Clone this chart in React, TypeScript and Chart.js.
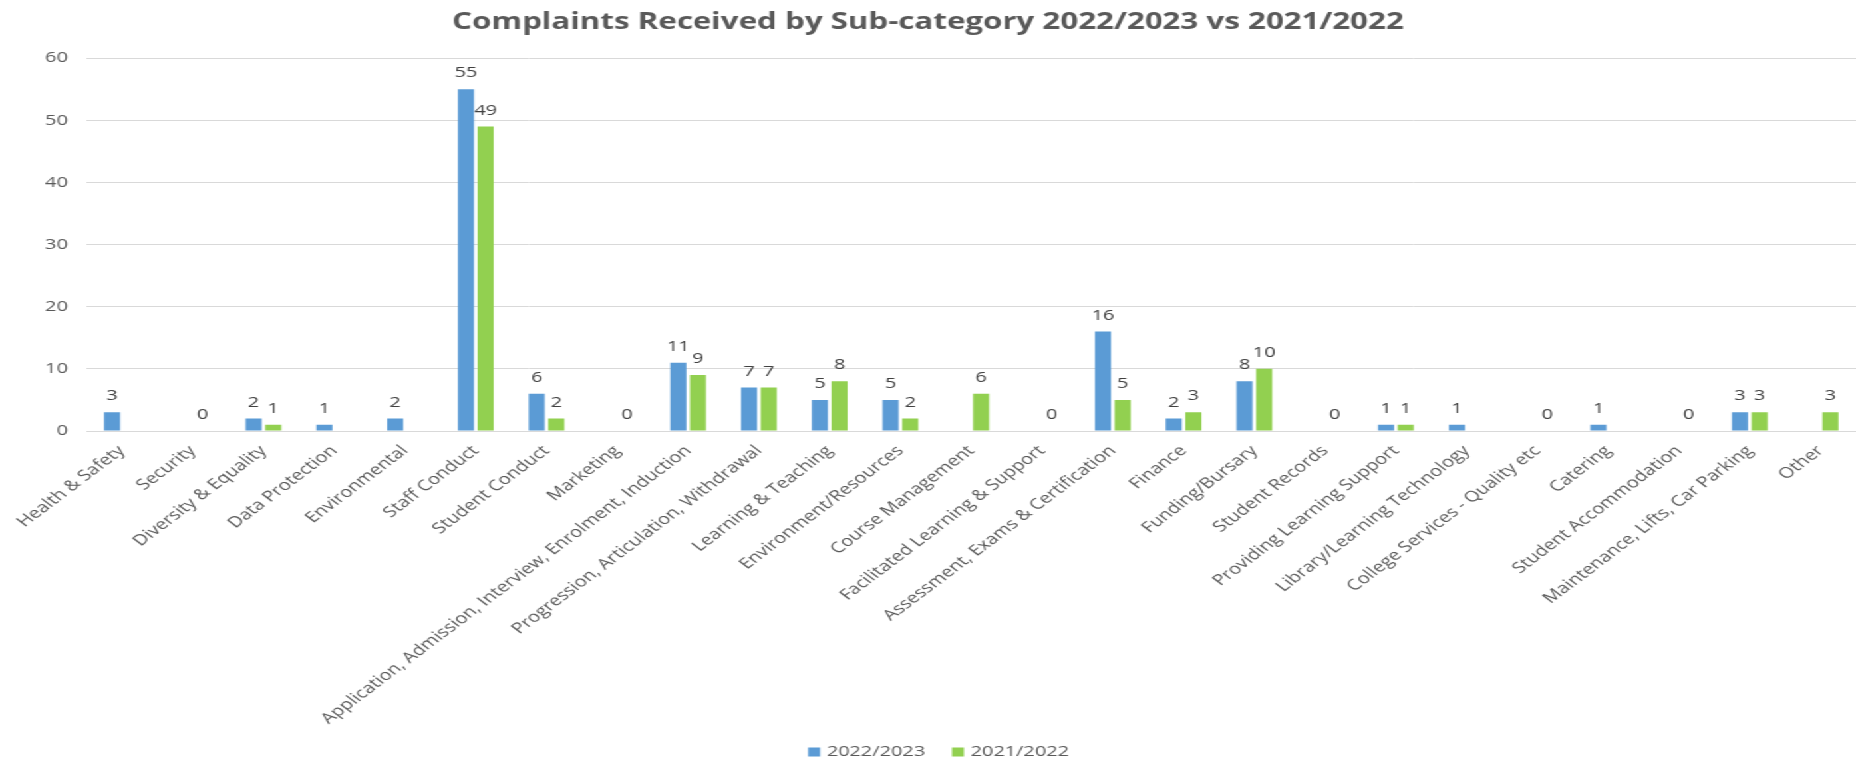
import React, { useEffect, useRef } from 'react';
import { Chart, registerables } from 'chart.js';

Chart.register(...registerables);

const TITLE = 'Complaints Received by Sub-category 2022/2023 vs 2021/2022';

const categories = [
  'Health & Safety',
  'Security',
  'Diversity & Equality',
  'Data Protection',
  'Environmental',
  'Staff Conduct',
  'Student Conduct',
  'Marketing',
  'Application, Admission, Interview, Enrolment, Induction',
  'Progression, Articulation, Withdrawal',
  'Learning & Teaching',
  'Environment/Resources',
  'Course Management',
  'Facilitated Learning & Support',
  'Assessment, Exams & Certification',
  'Finance',
  'Funding/Bursary',
  'Student Records',
  'Providing Learning Support',
  'Library/Learning Technology',
  'College Services - Quality etc',
  'Catering',
  'Student Accommodation',
  'Maintenance, Lifts, Car Parking',
  'Other',
];

const seriesLabels = ['2022/2023', '2021/2022'];

const values2022_23 = [3, null, 2, 1, 2, 55, 6, null, 11, 7, 5, 5, null, null, 16, 2, 8, null, 1, 1, null, 1, null, 3, null];
const values2021_22 = [null, 0, 1, null, null, 49, 2, 0, 9, 7, 8, 2, 6, 0, 5, 3, 10, 0, 1, null, 0, null, 0, 3, 3];

const yTicks = { min: 0, max: 60, step: 10 };

const BLUE = '#5B9BD5';
const GREEN = '#92D050';
const TEXT = '#595959';
const LABEL = '#404040';
const GRID = '#d9d9d9';
const FONT = 'Open Sans';

const LW = 1395; // logical width, stretched horizontally to 1856
const H = 761;
const STRETCH = 1856 / LW;

const dataLabelPlugin = {
  id: 'dataLabels',
  afterDatasetsDraw(chart: any) {
    const ctx = chart.ctx;
    ctx.save();
    ctx.font = `15px "${FONT}"`;
    ctx.fillStyle = LABEL;
    ctx.textAlign = 'center';
    ctx.textBaseline = 'alphabetic';
    chart.data.datasets.forEach((ds: any, i: number) => {
      const meta = chart.getDatasetMeta(i);
      meta.data.forEach((bar: any, j: number) => {
        const v = ds.data[j];
        if (v === null || v === undefined) return;
        ctx.fillText(String(v), bar.x, bar.y - 12);
      });
    });
    ctx.restore();
  },
};

const legendPlugin = {
  id: 'customLegend',
  afterDraw(chart: any) {
    const ctx = chart.ctx;
    ctx.save();
    ctx.font = `15px "${FONT}"`;
    ctx.textBaseline = 'middle';
    ctx.textAlign = 'left';
    const box = 9;
    const gapText = 5;
    const gapItem = 20;
    const items = chart.data.datasets.map((ds: any) => ({
      text: ds.label,
      color: ds.backgroundColor,
      w: box + gapText + ctx.measureText(ds.label).width,
    }));
    const total = items.reduce((a: number, it: any) => a + it.w, 0) + gapItem * (items.length - 1);
    let x = chart.width / 2 + 8 - total / 2;
    const y = 752;
    items.forEach((it: any) => {
      ctx.fillStyle = it.color;
      ctx.fillRect(x, y - box / 2, box, box);
      ctx.fillStyle = TEXT;
      ctx.fillText(it.text, x + box + gapText, y);
      x += it.w + gapItem;
    });
    ctx.restore();
  },
};

export default function App() {
  const canvasRef = useRef<HTMLCanvasElement | null>(null);

  useEffect(() => {
    if (!canvasRef.current) return;
    const chart = new Chart(canvasRef.current, {
      type: 'bar',
      data: {
        labels: categories,
        datasets: [
          {
            label: seriesLabels[0],
            data: values2022_23,
            backgroundColor: BLUE,
            categoryPercentage: 0.555,
            barPercentage: 0.82,
          },
          {
            label: seriesLabels[1],
            data: values2021_22,
            backgroundColor: GREEN,
            categoryPercentage: 0.555,
            barPercentage: 0.82,
          },
        ],
      },
      options: {
        responsive: false,
        maintainAspectRatio: false,
        animation: false,
        layout: { padding: { left: 0, right: 0, top: 0, bottom: 34 } },
        plugins: {
          legend: { display: false },
          tooltip: { enabled: false },
          title: {
            display: true,
            text: TITLE,
            color: TEXT,
            font: { family: FONT, size: 23.5, weight: 'bold' },
            padding: { top: 8, bottom: 22 },
          },
        },
        scales: {
          x: {
            grid: { display: false },
            border: { color: GRID },
            ticks: {
              autoSkip: false,
              minRotation: 45,
              maxRotation: 45,
              color: TEXT,
              font: { family: FONT, size: 15 },
              padding: 3,
            },
            afterFit: (s: any) => {
              s.height = 296;
            },
          },
          y: {
            min: yTicks.min,
            max: yTicks.max,
            ticks: {
              stepSize: yTicks.step,
              color: TEXT,
              font: { family: FONT, size: 15 },
              padding: 14,
            },
            grid: { color: GRID, drawTicks: false },
            border: { display: false },
            afterFit: (s: any) => {
              s.width = 65;
            },
          },
        },
      },
      plugins: [dataLabelPlugin, legendPlugin],
    } as any);
    return () => chart.destroy();
  }, []);

  return (
    <div
      style={{
        position: 'fixed',
        left: 0,
        top: 0,
        width: LW,
        height: H,
        transform: `scaleX(${STRETCH})`,
        transformOrigin: '0 0',
        background: '#fff',
      }}
    >
      <canvas ref={canvasRef} width={LW} height={H} style={{ display: 'block' }} />
    </div>
  );
}
